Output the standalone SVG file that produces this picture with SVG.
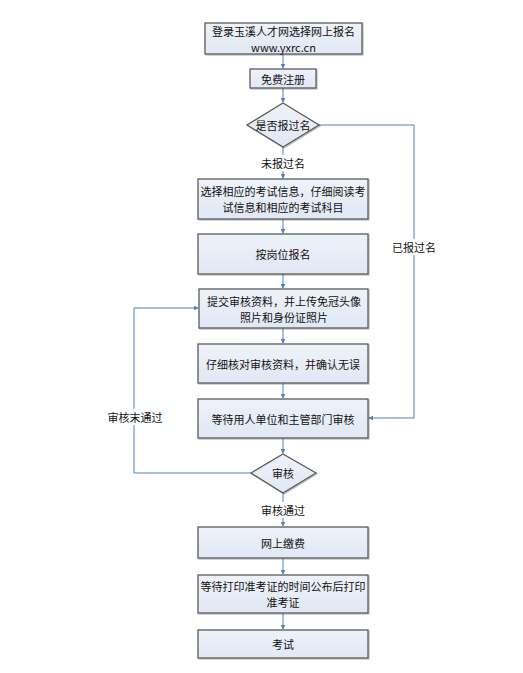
<svg xmlns="http://www.w3.org/2000/svg" width="523" height="673" viewBox="0 0 523 673">
<defs>
<marker id="arr" viewBox="0 0 8 8" refX="7" refY="4" markerWidth="5" markerHeight="5" orient="auto" markerUnits="userSpaceOnUse">
<path d="M0,0 L8,4 L0,8 z" fill="#4f81bd"/>
</marker>
<linearGradient id="g" x1="0" y1="0" x2="0" y2="1">
<stop offset="0" stop-color="#eef2fa"/>
<stop offset="1" stop-color="#e1e8f4"/>
</linearGradient>
<filter id="sh" x="-5%" y="-5%" width="115%" height="125%">
<feDropShadow dx="1" dy="1" stdDeviation="0.6" flood-color="#000" flood-opacity="0.25"/>
</filter>
</defs>
<style>
.box{fill:url(#g);stroke:#5b5b5b;stroke-width:1.3;filter:url(#sh)}
.t{font-family:"Noto Sans CJK SC","Microsoft YaHei",sans-serif;font-size:11px;fill:#111;text-anchor:middle;dominant-baseline:central}
.ln{fill:none;stroke:#4f81bd;stroke-width:1}
.lbl{fill:#fff}
</style>
<rect width="523" height="673" fill="#fff"/>
<g id="connectors">
<path class="ln" d="M283,54 V68" marker-end="url(#arr)"/>
<path class="ln" d="M283,88 V102" marker-end="url(#arr)"/>
<path class="ln" d="M283,147 V178" marker-end="url(#arr)"/>
<path class="ln" d="M283,219 V233" marker-end="url(#arr)"/>
<path class="ln" d="M283,274 V288" marker-end="url(#arr)"/>
<path class="ln" d="M283,328 V343" marker-end="url(#arr)"/>
<path class="ln" d="M283,383 V398" marker-end="url(#arr)"/>
<path class="ln" d="M283,438 V453" marker-end="url(#arr)"/>
<path class="ln" d="M283,493 V526" marker-end="url(#arr)"/>
<path class="ln" d="M283,558 V574" marker-end="url(#arr)"/>
<path class="ln" d="M283,613 V629" marker-end="url(#arr)"/>
<path class="ln" d="M319,125 H414 V418 H369" marker-end="url(#arr)"/>
<path class="ln" d="M251,473 H134 V308 H198" marker-end="url(#arr)"/>
<rect class="lbl" x="258" y="155" width="50" height="16"/>
<text class="t" x="283" y="163">未报过名</text>
<rect class="lbl" x="390" y="239" width="48" height="16"/>
<text class="t" x="414" y="247">已报过名</text>
<rect class="lbl" x="106" y="409" width="58" height="16"/>
<text class="t" x="135" y="417">审核末通过</text>
<rect class="lbl" x="259" y="502" width="48" height="16"/>
<text class="t" x="283" y="510">审核通过</text>
</g>
<g id="n1"><rect class="box" x="205" y="23" width="157" height="31"/><text class="t" x="283.5" y="31">登录玉溪人才网选择网上报名</text><text class="t" x="283.5" y="47">www.yxrc.cn</text></g>
<g id="n2"><rect class="box" x="250" y="69" width="66" height="19"/><text class="t" x="283" y="78.5">免费注册</text></g>
<g id="n3"><polygon class="box" points="283,103 319,125 283,147 247,125"/><text class="t" x="283" y="125">是否报过名</text></g>
<g id="n4"><rect class="box" x="198" y="179" width="170" height="40"/><text class="t" x="283" y="191">选择相应的考试信息，仔细阅读考</text><text class="t" x="283" y="207">试信息和相应的考试科目</text></g>
<g id="n5"><rect class="box" x="198" y="234" width="170" height="40"/><text class="t" x="283" y="254">按岗位报名</text></g>
<g id="n6"><rect class="box" x="199" y="289" width="169" height="39"/><text class="t" x="284" y="300.5">提交审核资料，并上传免冠头像</text><text class="t" x="284" y="316.5">照片和身份证照片</text></g>
<g id="n7"><rect class="box" x="198" y="344" width="170" height="39"/><text class="t" x="283" y="363.5">仔细核对审核资料，并确认无误</text></g>
<g id="n8"><rect class="box" x="198" y="399" width="170" height="39"/><text class="t" x="283" y="418.5">等待用人单位和主管部门审核</text></g>
<g id="n9"><polygon class="box" points="283,454 316,473 283,493 251,473"/><text class="t" x="283" y="473">审核</text></g>
<g id="n10"><rect class="box" x="198" y="527" width="170" height="31"/><text class="t" x="283" y="542.5">网上缴费</text></g>
<g id="n11"><rect class="box" x="198" y="575" width="170" height="38"/><text class="t" x="283" y="586">等待打印准考证的时间公布后打印</text><text class="t" x="283" y="602">准考证</text></g>
<g id="n12"><rect class="box" x="198" y="630" width="170" height="28"/><text class="t" x="283" y="644">考试</text></g>
</svg>
